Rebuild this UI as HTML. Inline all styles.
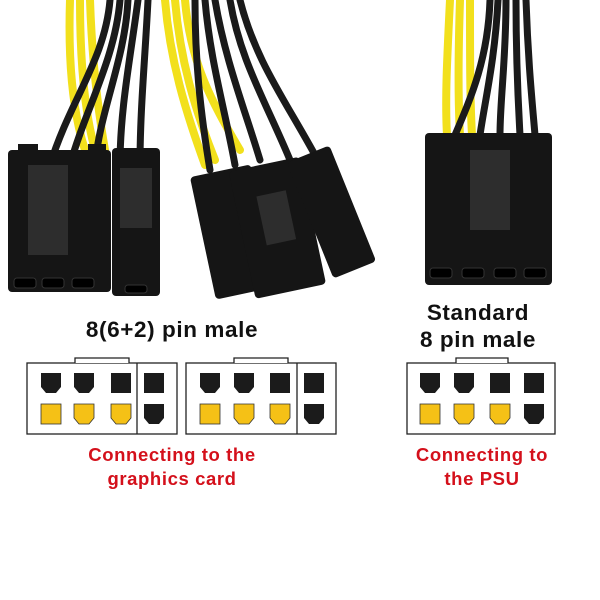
<!DOCTYPE html>
<html><head><meta charset="utf-8"><style>
html,body{margin:0;padding:0;background:#fff;}
body{width:600px;height:600px;position:relative;overflow:hidden;font-family:"Liberation Sans",sans-serif;}
.t{position:absolute;font-weight:bold;text-align:center;}
.k{color:#111;font-size:22.5px;line-height:27px;letter-spacing:0.6px;}
.r{color:#d4101b;font-size:18.5px;line-height:24px;letter-spacing:0.6px;}
</style></head><body>
<svg width="600" height="600" style="position:absolute;left:0;top:0">
<g fill="none" stroke-linecap="round">
 <g stroke="#f2e01c" stroke-width="8">
  <path d="M70 0 C68 60 72 110 85 150"/><path d="M80 0 C80 60 84 110 95 150"/><path d="M90 0 C92 60 98 110 105 150"/>
  <path d="M165 0 C170 60 185 110 205 165"/><path d="M175 0 C180 60 195 110 215 160"/><path d="M185 0 C190 60 210 100 240 150"/>
  <path d="M450 0 C447 60 445 100 447 135"/><path d="M460 0 C458 60 458 100 460 135"/><path d="M470 0 C470 60 470 100 472 135"/>
 </g>
 <g stroke="#1a1a1a" stroke-width="7">
  <path d="M110 0 C105 60 70 100 50 165"/><path d="M120 0 C115 60 85 110 70 165"/><path d="M128 0 C125 60 100 110 95 165"/>
  <path d="M138 0 C130 60 120 110 120 165"/><path d="M148 0 C145 60 140 110 140 165"/>
  <path d="M195 0 C195 60 200 110 210 170"/><path d="M205 0 C210 60 225 110 235 165"/><path d="M215 0 C225 60 245 110 260 160"/>
  <path d="M230 0 C240 60 265 100 290 160"/><path d="M240 0 C255 60 285 100 315 155"/>
  <path d="M490 0 C488 60 470 100 455 135"/><path d="M498 0 C495 60 485 100 480 135"/><path d="M506 0 C506 60 500 100 500 135"/>
  <path d="M516 0 C516 60 518 100 520 135"/><path d="M526 0 C528 60 532 100 535 135"/>
 </g>
</g>
<g fill="#151515">
 <rect x="8" y="150" width="103" height="142" rx="4"/>
 <rect x="18" y="144" width="20" height="10"/><rect x="88" y="144" width="18" height="10"/>
 <rect x="112" y="148" width="48" height="148" rx="4"/>
 <g transform="rotate(-12 240 230)"><rect x="202" y="168" width="62" height="125" rx="4"/></g>
 <g transform="rotate(-12 290 220)"><rect x="240" y="160" width="72" height="130" rx="4"/></g>
 <g transform="rotate(-22 335 210)"><rect x="308" y="148" width="46" height="125" rx="4"/></g>
 <rect x="425" y="133" width="127" height="152" rx="4"/>
</g>
<g fill="#2d2d2d">
 <rect x="28" y="165" width="40" height="90"/><rect x="120" y="168" width="32" height="60"/>
 <rect x="470" y="150" width="40" height="80"/>
 <g transform="rotate(-12 290 220)"><rect x="262" y="190" width="30" height="50"/></g>
</g>
<g fill="#000" stroke="#333" stroke-width="1">
 <rect x="14" y="278" width="22" height="10" rx="3"/><rect x="42" y="278" width="22" height="10" rx="3"/><rect x="72" y="278" width="22" height="10" rx="3"/>
 <rect x="125" y="285" width="22" height="8" rx="3"/>
 <rect x="430" y="268" width="22" height="10" rx="3"/><rect x="462" y="268" width="22" height="10" rx="3"/><rect x="494" y="268" width="22" height="10" rx="3"/><rect x="524" y="268" width="22" height="10" rx="3"/>
</g>
<g stroke="#222" stroke-width="1.3" fill="#fff">
 <rect x="27" y="363" width="150" height="71"/><line x1="137" y1="363" x2="137" y2="434"/>
 <path d="M75 363 V358 H129 V363"/>
 <rect x="186" y="363" width="150" height="71"/><line x1="297" y1="363" x2="297" y2="434"/>
 <path d="M234 363 V358 H288 V363"/>
 <rect x="407" y="363" width="148" height="71"/>
 <path d="M456 363 V358 H508 V363"/>
</g>
<g>
 <path d="M41 373h20v14l-5 6h-10l-5-6z" fill="#1b1b1b"/>
 <path d="M74 373h20v14l-5 6h-10l-5-6z" fill="#1b1b1b"/>
 <rect x="111" y="373" width="20" height="20" fill="#1b1b1b"/>
 <rect x="144" y="373" width="20" height="20" fill="#1b1b1b"/>
 <rect x="41" y="404" width="20" height="20" fill="#f5c116" stroke="#333" stroke-width=".8"/>
 <path d="M74 404h20v14l-5 6h-10l-5-6z" fill="#f5c116" stroke="#333" stroke-width=".8"/>
 <path d="M111 404h20v14l-5 6h-10l-5-6z" fill="#f5c116" stroke="#333" stroke-width=".8"/>
 <path d="M144 404h20v14l-5 6h-10l-5-6z" fill="#1b1b1b"/>
 <path d="M200 373h20v14l-5 6h-10l-5-6z" fill="#1b1b1b"/>
 <path d="M234 373h20v14l-5 6h-10l-5-6z" fill="#1b1b1b"/>
 <rect x="270" y="373" width="20" height="20" fill="#1b1b1b"/>
 <rect x="304" y="373" width="20" height="20" fill="#1b1b1b"/>
 <rect x="200" y="404" width="20" height="20" fill="#f5c116" stroke="#333" stroke-width=".8"/>
 <path d="M234 404h20v14l-5 6h-10l-5-6z" fill="#f5c116" stroke="#333" stroke-width=".8"/>
 <path d="M270 404h20v14l-5 6h-10l-5-6z" fill="#f5c116" stroke="#333" stroke-width=".8"/>
 <path d="M304 404h20v14l-5 6h-10l-5-6z" fill="#1b1b1b"/>
 <path d="M420 373h20v14l-5 6h-10l-5-6z" fill="#1b1b1b"/>
 <path d="M454 373h20v14l-5 6h-10l-5-6z" fill="#1b1b1b"/>
 <rect x="490" y="373" width="20" height="20" fill="#1b1b1b"/>
 <rect x="524" y="373" width="20" height="20" fill="#1b1b1b"/>
 <rect x="420" y="404" width="20" height="20" fill="#f5c116" stroke="#333" stroke-width=".8"/>
 <path d="M454 404h20v14l-5 6h-10l-5-6z" fill="#f5c116" stroke="#333" stroke-width=".8"/>
 <path d="M490 404h20v14l-5 6h-10l-5-6z" fill="#f5c116" stroke="#333" stroke-width=".8"/>
 <path d="M524 404h20v14l-5 6h-10l-5-6z" fill="#1b1b1b"/>
</g>
</svg>
<div class="t k" style="left:22px;width:300px;top:316px">8(6+2) pin male</div>
<div class="t k" style="left:378px;width:200px;top:299px">Standard<br>8 pin male</div>
<div class="t r" style="left:22px;width:300px;top:443px">Connecting to the<br>graphics card</div>
<div class="t r" style="left:382px;width:200px;top:443px">Connecting to<br>the PSU</div>
</body></html>
